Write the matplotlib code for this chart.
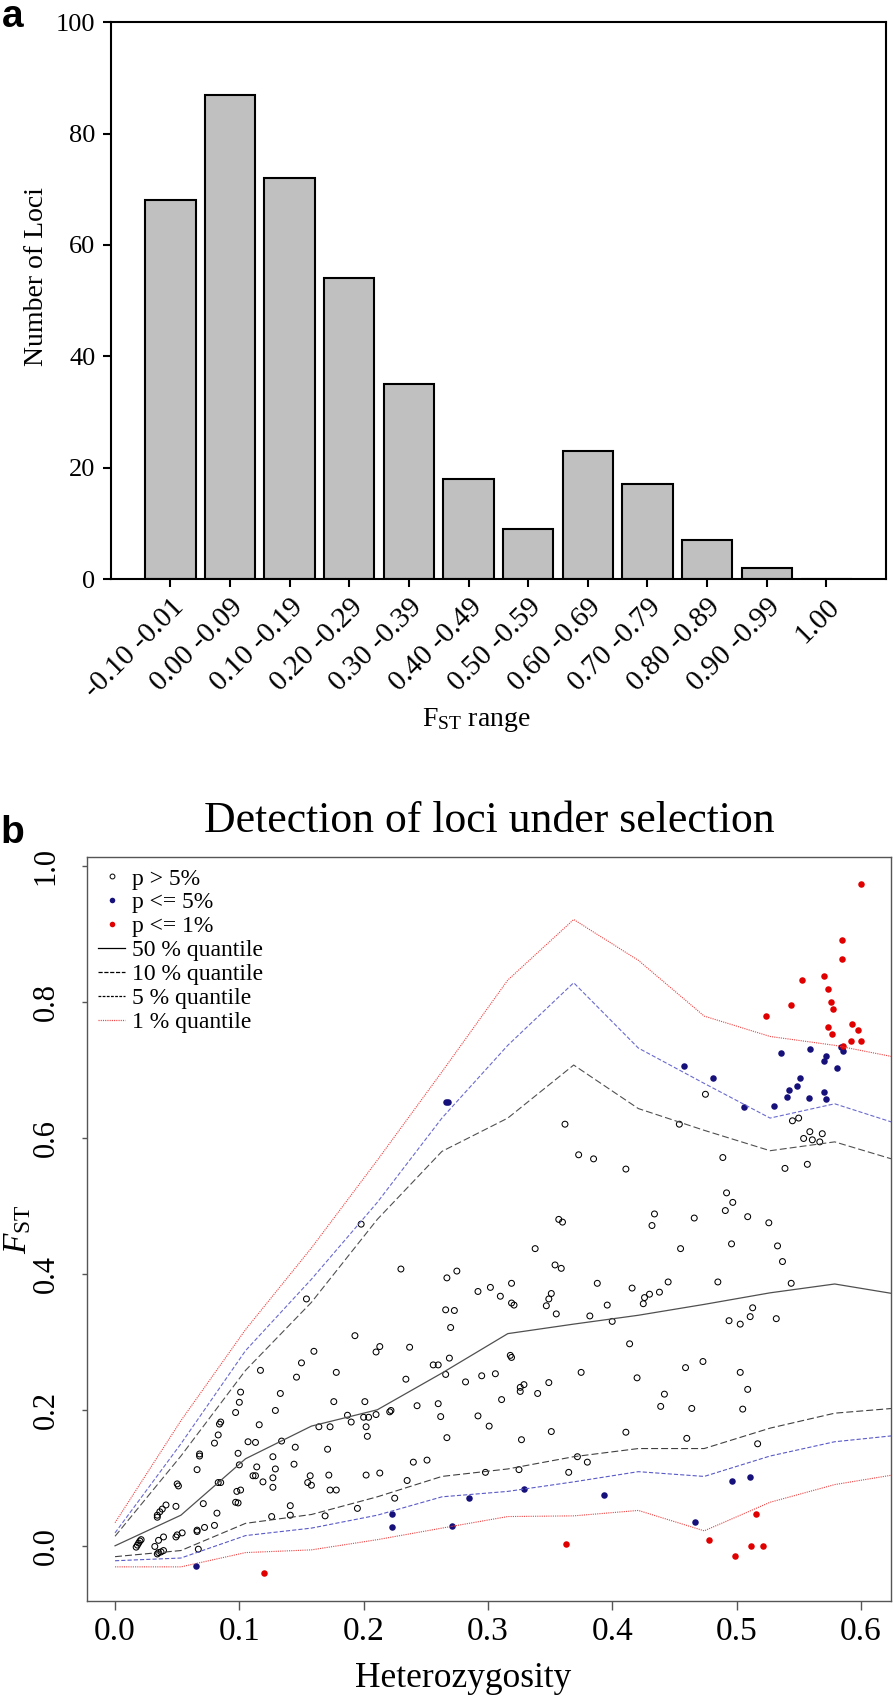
import numpy as np
import matplotlib
matplotlib.use("Agg")
import matplotlib.pyplot as plt
from matplotlib.lines import Line2D

# ---- panel a : histogram of F_ST values ----
fst_bins = ["-0.10 -0.01", "0.00 -0.09", "0.10 -0.19", "0.20 -0.29", "0.30 -0.39",
            "0.40 -0.49", "0.50 -0.59", "0.60 -0.69", "0.70 -0.79", "0.80 -0.89",
            "0.90 -0.99", "1.00"]
n_loci = [68, 87, 72, 54, 35, 18, 9, 23, 17, 7, 2, 0]

# ---- panel b : quantile envelopes (heterozygosity grid) ----
het_grid = [0.0, 0.053, 0.105, 0.158, 0.211, 0.263, 0.316, 0.369, 0.421, 0.474, 0.527, 0.579, 0.632]
q50 = [0.000, 0.045, 0.128, 0.176, 0.200, 0.254, 0.312, 0.326, 0.339, 0.355, 0.372, 0.385, 0.369]
q10_hi = [0.014, 0.132, 0.258, 0.358, 0.480, 0.580, 0.629, 0.707, 0.643, 0.611, 0.581, 0.594, 0.565]
q10_lo = [-0.016, -0.007, 0.033, 0.046, 0.072, 0.102, 0.113, 0.131, 0.143, 0.143, 0.173, 0.195, 0.203]
q05_hi = [0.019, 0.150, 0.287, 0.392, 0.505, 0.629, 0.736, 0.828, 0.732, 0.680, 0.629, 0.650, 0.619]
q05_lo = [-0.022, -0.018, 0.015, 0.026, 0.045, 0.072, 0.080, 0.094, 0.109, 0.102, 0.132, 0.153, 0.163]
q01_hi = [0.034, 0.184, 0.318, 0.438, 0.567, 0.697, 0.832, 0.921, 0.861, 0.779, 0.749, 0.736, 0.717]
q01_lo = [-0.031, -0.031, -0.010, -0.006, 0.009, 0.026, 0.043, 0.044, 0.052, 0.022, 0.064, 0.090, 0.106]

# loci with p > 5%
ns_het = [0.017, 0.018, 0.019, 0.020, 0.021, 0.032, 0.034, 0.035, 0.037, 0.039, 0.035, 0.039,
          0.034, 0.034, 0.036, 0.038, 0.041, 0.049, 0.050, 0.051, 0.050, 0.049, 0.054, 0.066,
          0.066, 0.067, 0.072, 0.080, 0.071, 0.082, 0.066, 0.068, 0.068, 0.080, 0.083, 0.084,
          0.085, 0.083, 0.085, 0.097, 0.099, 0.098, 0.101, 0.100, 0.099, 0.100, 0.097, 0.107,
          0.113, 0.114, 0.111, 0.113, 0.116, 0.119, 0.127, 0.127, 0.127, 0.129, 0.129, 0.134,
          0.126, 0.141, 0.141, 0.144, 0.145, 0.155, 0.158, 0.157, 0.198, 0.154, 0.230, 0.267,
          0.275, 0.292, 0.302, 0.266, 0.273, 0.270, 0.310, 0.193, 0.237, 0.210, 0.213, 0.160,
          0.150, 0.117, 0.178, 0.146, 0.256, 0.260, 0.269, 0.266, 0.234, 0.282, 0.295, 0.306,
          0.101, 0.133, 0.176, 0.201, 0.187, 0.190, 0.200, 0.204, 0.210, 0.221, 0.222, 0.202,
          0.203, 0.243, 0.260, 0.262, 0.267, 0.292, 0.301, 0.164, 0.173, 0.171, 0.169, 0.172,
          0.173, 0.178, 0.195, 0.202, 0.213, 0.225, 0.235, 0.240, 0.251, 0.298, 0.325, 0.365,
          0.372, 0.380, 0.327, 0.351, 0.340, 0.326, 0.329, 0.326, 0.349, 0.311, 0.318, 0.319,
          0.375, 0.382, 0.400, 0.414, 0.420, 0.411, 0.439, 0.442, 0.459, 0.473, 0.464, 0.460,
          0.494, 0.503, 0.503, 0.509, 0.505, 0.511, 0.513, 0.517, 0.532, 0.544, 0.362, 0.475,
          0.454, 0.545, 0.550, 0.559, 0.554, 0.561, 0.569, 0.567, 0.373, 0.385, 0.411, 0.489,
          0.539, 0.557, 0.492, 0.497, 0.491, 0.509, 0.526, 0.466, 0.434, 0.432, 0.357, 0.360,
          0.338, 0.455, 0.496, 0.533, 0.537, 0.354, 0.359, 0.319, 0.388, 0.445, 0.485, 0.416,
          0.426, 0.430, 0.438, 0.425, 0.319, 0.321, 0.351, 0.349, 0.347, 0.355, 0.396]
ns_fst = [-0.002, 0.001, 0.004, 0.007, 0.009, -0.001, -0.012, -0.010, -0.009, -0.007, 0.008, 0.013,
          0.042, 0.045, 0.050, 0.054, 0.060, 0.058, 0.091, 0.088, 0.016, 0.013, 0.019, 0.023,
          0.021, -0.005, 0.027, 0.030, 0.062, 0.048, 0.112, 0.135, 0.132, 0.151, 0.163, 0.179,
          0.182, 0.093, 0.093, 0.064, 0.063, 0.080, 0.082, 0.119, 0.136, 0.211, 0.196, 0.153,
          0.152, 0.116, 0.103, 0.103, 0.178, 0.094, 0.131, 0.100, 0.086, 0.113, 0.199, 0.154,
          0.043, 0.059, 0.045, 0.120, 0.145, 0.093, 0.089, 0.103, 0.473, 0.363, 0.407, 0.394,
          0.404, 0.374, 0.380, 0.347, 0.346, 0.321, 0.367, 0.309, 0.292, 0.285, 0.293, 0.286,
          0.269, 0.258, 0.255, 0.248, 0.266, 0.266, 0.276, 0.252, 0.245, 0.241, 0.250, 0.253,
          0.226, 0.224, 0.212, 0.212, 0.192, 0.182, 0.189, 0.189, 0.193, 0.197, 0.199, 0.175,
          0.161, 0.206, 0.209, 0.190, 0.159, 0.191, 0.176, 0.175, 0.175, 0.142, 0.044, 0.104,
          0.082, 0.082, 0.055, 0.104, 0.107, 0.070, 0.096, 0.123, 0.126, 0.108, 0.112, 0.108,
          0.131, 0.123, 0.156, 0.168, 0.224, 0.233, 0.237, 0.227, 0.240, 0.215, 0.280, 0.277,
          0.255, 0.338, 0.330, 0.297, 0.247, 0.167, 0.205, 0.223, 0.262, 0.271, 0.202, 0.158,
          0.331, 0.326, 0.255, 0.230, 0.201, 0.337, 0.350, 0.150, 0.334, 0.386, 0.620, 0.664,
          0.620, 0.625, 0.629, 0.609, 0.599, 0.597, 0.606, 0.594, 0.575, 0.569, 0.554, 0.571,
          0.555, 0.561, 0.519, 0.505, 0.493, 0.484, 0.475, 0.482, 0.488, 0.471, 0.480, 0.476,
          0.437, 0.437, 0.444, 0.441, 0.418, 0.413, 0.408, 0.386, 0.386, 0.388, 0.388, 0.379,
          0.365, 0.370, 0.373, 0.356, 0.357, 0.354, 0.371, 0.363, 0.353, 0.341, 0.354]

# loci with p <= 5%
p05_het = [0.065, 0.223, 0.223, 0.271, 0.285, 0.329, 0.393, 0.467, 0.496, 0.511, 0.266, 0.268,
           0.458, 0.481, 0.506, 0.530, 0.536, 0.541, 0.542, 0.549, 0.551, 0.558, 0.559, 0.570,
           0.572, 0.570, 0.572, 0.581, 0.584, 0.586]
p05_fst = [-0.029, 0.047, 0.028, 0.029, 0.071, 0.084, 0.074, 0.035, 0.096, 0.101, 0.652, 0.653,
           0.705, 0.688, 0.646, 0.647, 0.724, 0.660, 0.671, 0.676, 0.688, 0.658, 0.731, 0.667,
           0.657, 0.713, 0.721, 0.703, 0.734, 0.728]

# loci with p <= 1%
p01_het = [0.600, 0.585, 0.585, 0.553, 0.570, 0.574, 0.576, 0.578, 0.544, 0.524, 0.574, 0.577,
           0.593, 0.598, 0.592, 0.600, 0.586, 0.363, 0.478, 0.499, 0.512, 0.521, 0.516, 0.120]
p01_fst = [0.973, 0.891, 0.863, 0.832, 0.838, 0.819, 0.799, 0.789, 0.795, 0.779, 0.763, 0.752,
           0.767, 0.759, 0.742, 0.742, 0.735, 0.003, 0.009, -0.015, 0.000, -0.001, 0.047, -0.040]

plt.rcParams['font.family'] = 'Liberation Serif'
plt.rcParams['mathtext.fontset'] = 'custom'
plt.rcParams['mathtext.rm'] = 'Liberation Serif'
plt.rcParams['mathtext.it'] = 'Liberation Serif:italic'
plt.rcParams['lines.scale_dashes'] = False

W, H = 894, 1696
fig = plt.figure(figsize=(W / 100, H / 100), dpi=100)

# ================= panel a =================
ax1 = fig.add_axes([110.7 / W, 1 - 579 / H, (886 - 110.7) / W, (579 - 22.3) / H])
pos = np.arange(len(fst_bins))
ax1.bar(pos, n_loci, width=0.845, color='#c0c0c0', edgecolor='black', linewidth=1.5)
ax1.set_xlim(-1, 12)
ax1.set_ylim(0, 100)
ax1.set_yticks([0, 20, 40, 60, 80, 100])
ax1.set_xticks(pos)
ax1.set_xticklabels(fst_bins, rotation=45, ha='right', va='top', rotation_mode='anchor')
ax1.tick_params(axis='both', direction='out', length=6, width=1.5, labelsize=21, pad=5)
ax1.tick_params(axis='y', labelsize=19)
for s in ax1.spines.values():
    s.set_linewidth(1.5)
ax1.set_ylabel('Number of Loci', fontsize=20)
ax1.yaxis.set_label_coords(-0.08, 0.544)
ax1.set_xlabel(r'F$_{\mathrm{ST}}$ range', fontsize=20)
ax1.xaxis.set_label_coords(0.471, -0.228)

# ================= panel b =================
ax2 = fig.add_axes([86.7 / W, 1 - 1601 / H, (891 - 86.7) / W, (1601 - 857.3) / H])
ax2.plot(het_grid, q01_hi, color='#f04040', lw=0.8, dashes=(0.8, 0.8))
ax2.plot(het_grid, q01_lo, color='#f04040', lw=0.8, dashes=(0.8, 0.8))
ax2.plot(het_grid, q05_hi, color='#6a6ad0', lw=0.8, dashes=(3, 1.5))
ax2.plot(het_grid, q05_lo, color='#5a5ac8', lw=0.8, dashes=(3, 1.5))
ax2.plot(het_grid, q10_hi, color='#505050', lw=0.8, dashes=(5, 2.2))
ax2.plot(het_grid, q10_lo, color='#404040', lw=0.8, dashes=(5, 2.2))
ax2.plot(het_grid, q50, color='#505050', lw=0.9)
ax2.scatter(ns_het, ns_fst, s=18, facecolors='none', edgecolors='black', linewidths=0.75)
ax2.scatter(p05_het, p05_fst, s=22, color='#16107a', linewidths=0)
ax2.scatter(p01_het, p01_fst, s=22, color='#e00000', linewidths=0)

ax2.set_xlim(-0.0228, 0.6243)
ax2.set_ylim(-0.0812, 1.0125)
ax2.set_xticks([0.0, 0.1, 0.2, 0.3, 0.4, 0.5, 0.6])
ax2.set_yticks([0.0, 0.2, 0.4, 0.6, 0.8, 1.0])
ax2.xaxis.set_major_formatter(matplotlib.ticker.FormatStrFormatter('%.1f'))
ax2.yaxis.set_major_formatter(matplotlib.ticker.FormatStrFormatter('%.1f'))
for s in ax2.spines.values():
    s.set_color('#555555')
    s.set_linewidth(1.0)
ax2.tick_params(axis='x', direction='out', length=6.5, width=1.0, color='#555555', labelsize=24, pad=5)
ax2.tick_params(axis='y', direction='out', length=3.6, width=1.0, color='#555555', labelsize=22,
                pad=15, labelrotation=90)
for t in ax2.get_yticklabels():
    t.set_va('center')
ax2.set_title('Detection of loci under selection', fontsize=31.5, pad=18)
ax2.set_xlabel('Heterozygosity', fontsize=25.5)
ax2.xaxis.set_label_coords(0.468, -0.082)
ax2.set_ylabel(r'$F_{\mathrm{ST}}$', fontsize=24)
ax2.yaxis.set_label_coords(-0.066, 0.5)

handles = [
    Line2D([], [], ls='none', marker='o', ms=3.5, mfc='none', mec='black', mew=0.7),
    Line2D([], [], ls='none', marker='o', ms=4, mfc='#16107a', mec='none'),
    Line2D([], [], ls='none', marker='o', ms=4, mfc='#e00000', mec='none'),
    Line2D([], [], color='black', lw=0.9),
    Line2D([], [], color='black', lw=0.9, dashes=(3, 1.2)),
    Line2D([], [], color='black', lw=0.9, dashes=(2, 1)),
    Line2D([], [], color='#f04040', lw=0.9, dashes=(0.8, 0.8)),
]
labels = ['p > 5%', 'p <= 5%', 'p <= 1%', '50 % quantile', '10 % quantile',
          '5 % quantile', '1 % quantile']
ax2.legend(handles, labels, loc='upper left', bbox_to_anchor=(0.014, 0.9856), frameon=False,
           fontsize=17, borderaxespad=0, borderpad=0, handlelength=1.15, handletextpad=0.3,
           labelspacing=0.1)

fig.text(2 / W, 1 - 27 / H, 'a', fontsize=28, fontweight='bold', family='Liberation Sans',
         va='baseline', ha='left')
fig.text(0 / W, 1 - 843 / H, 'b', fontsize=28, fontweight='bold', family='Liberation Sans',
         va='baseline', ha='left')

fig.savefig('out.png', dpi=100)
